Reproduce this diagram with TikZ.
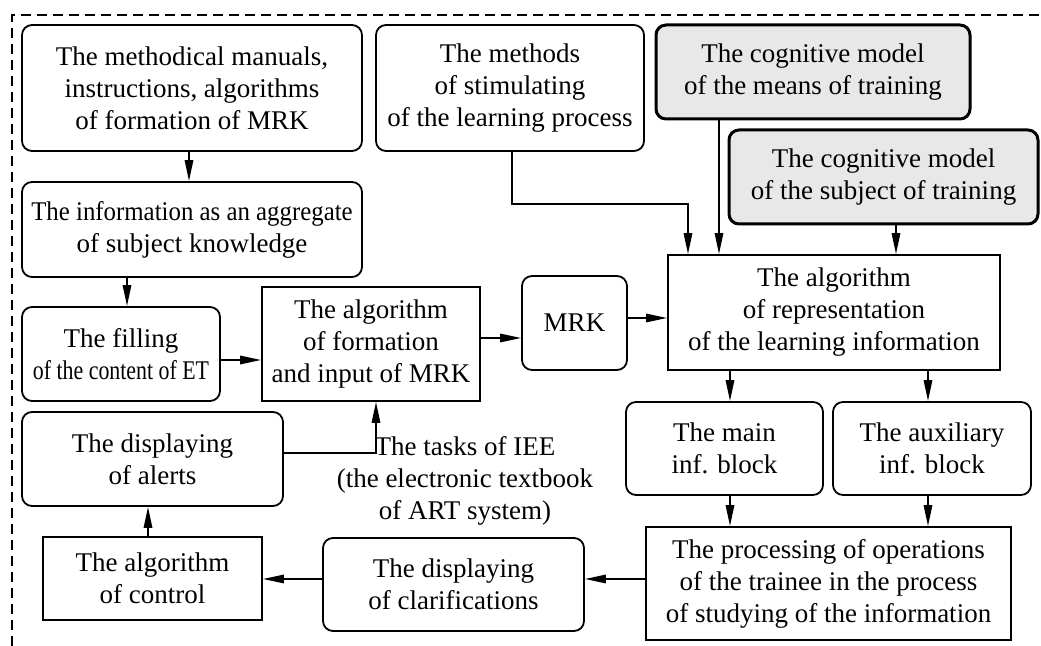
\documentclass[tikz,border=0pt]{standalone}
\usepackage{fontspec}
\setmainfont{Liberation Serif}
\usepackage{graphicx}
\usetikzlibrary{arrows.meta}

\begin{document}
\begin{tikzpicture}[x=0.5pt,y=-0.5pt,
  every node/.style={font=\fontsize{13.5}{16}\selectfont, align=center, inner sep=0pt},
  sbox/.style={draw, line width=0.9pt},
  rbox/.style={sbox, rounded corners=5pt},
  gbox/.style={draw, line width=1.5pt, rounded corners=5pt, fill=gray!18},
  arr/.style={line width=0.9pt, -{Triangle[length=10.5pt,width=4.2pt]}},
  frame/.style={line width=0.6pt, dash pattern=on 5pt off 3pt}]

\useasboundingbox (0,0) rectangle (1041,646);

% outer dashed frame (top and left edges)
\draw[frame] (12,646) -- (12,15) -- (1041,15);

% blocks
\node[rbox, minimum width=170pt, minimum height=63pt] (A) at (192,88)
  {The methodical manuals,\\instructions, algorithms\\of formation of MRK};
\node[rbox, minimum width=134pt, minimum height=63pt] (B) at (510,88)
  {The methods\\of stimulating\\of the learning process};
\node[gbox, minimum width=157pt, minimum height=47pt] (C) at (813,72)
  {The cognitive model\\of the means of training};
\node[gbox, minimum width=154.5pt, minimum height=47pt] (D) at (883.5,177)
  {The cognitive model\\of the subject of training};
\node[rbox, minimum width=170pt, minimum height=47.5pt] (E) at (192,229.5)
  {\scalebox{0.92}[1]{The information as an aggregate}\\of subject knowledge};
\node[rbox, minimum width=99pt, minimum height=47pt] (F) at (121,354)
  {The filling\\\scalebox{0.81}[1]{of the content of ET}};
\node[sbox, minimum width=109pt, minimum height=57pt] (G) at (371,344)
  {The algorithm\\of formation\\and input of MRK};
\node[rbox, minimum width=52.5pt, minimum height=47pt] (H) at (574.5,323)
  {MRK};
\node[sbox, minimum width=166pt, minimum height=57.5pt] (I) at (834,312.5)
  {The algorithm\\of representation\\of the learning information};
\node[rbox, minimum width=130.5pt, minimum height=47pt] (J) at (152.5,459)
  {The displaying\\of alerts};
\node[sbox, minimum width=109.5pt, minimum height=41.5pt] (K) at (152.5,578.5)
  {The algorithm\\of control};
\node[rbox, minimum width=130.5pt, minimum height=46.5pt] (L) at (453.5,584.5)
  {The displaying\\of clarifications};
\node[rbox, minimum width=98.5pt, minimum height=46.5pt] (M) at (724.5,448.5)
  {The main\\inf. block};
\node[rbox, minimum width=99pt, minimum height=46.5pt] (N) at (932,448.5)
  {The auxiliary\\inf. block};
\node[sbox, minimum width=182.5pt, minimum height=56.5pt] (O) at (828.5,583.5)
  {The processing of operations\\of the trainee in the process\\of studying of the information};

% free label
\node (T) at (465,481) {The tasks of IEE\\(the electronic textbook\\of ART system)};

% connectors
\draw[arr] ([xshift=-1.5pt]A.south) -- ([xshift=-1.5pt]A.south |- E.north);
\draw[arr] ([xshift=3pt]F.north |- E.south) -- ([xshift=3pt]F.north);
\draw[arr] ([yshift=-3pt]F.east) -- ([yshift=-3pt]F.east -| G.west);
\draw[arr] ([yshift=3pt]G.east) -- ([yshift=3pt]G.east -| H.west);
\draw[arr] ([yshift=2.5pt]H.east) -- ([yshift=2.5pt]H.east -| I.west);
\draw[arr] ([xshift=1pt]B.south) -- ++(0pt,-26pt) -| ([xshift=-73pt]I.north);
\draw[arr] ([xshift=-57.5pt]I.north |- C.south) -- ([xshift=-57.5pt]I.north);
\draw[arr] ([xshift=31pt]I.north |- D.south) -- ([xshift=31pt]I.north);
\draw[arr] ([xshift=2.75pt]M.north |- I.south) -- ([xshift=2.75pt]M.north);
\draw[arr] ([xshift=-2pt]N.north |- I.south) -- ([xshift=-2pt]N.north);
\draw[arr] ([xshift=2.75pt]M.south) -- ([xshift=2.75pt]M.south |- O.north);
\draw[arr] ([xshift=-2pt]N.south) -- ([xshift=-2pt]N.south |- O.north);
\draw[arr] ([yshift=2.25pt]O.west) -- ([yshift=2.25pt]O.west -| L.east);
\draw[arr] ([yshift=2.75pt]L.west) -- ([yshift=2.75pt]L.west -| K.east);
\draw[arr] ([xshift=-2.25pt]K.north) -- ([xshift=-2.25pt]K.north |- J.south);
\draw[arr] ([yshift=3pt]J.east) -| ([xshift=2.5pt]G.south);

\end{tikzpicture}
\end{document}
